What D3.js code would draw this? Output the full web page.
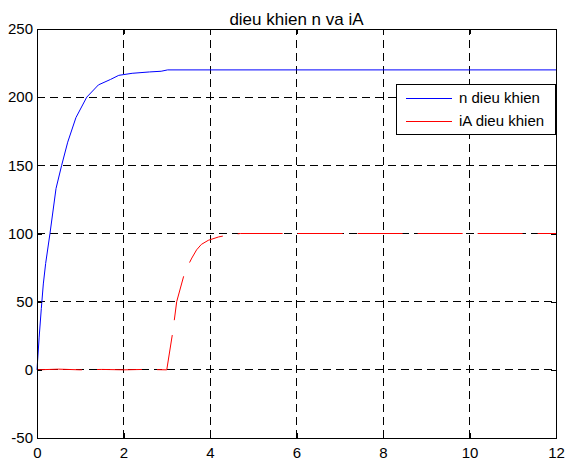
<!DOCTYPE html>
<html>
<head>
<meta charset="utf-8">
<script src="https://cdn.jsdelivr.net/npm/d3@7"></script>
<style>
  body { margin: 0; background: #fff; }
  text { font-family: Arial, "Liberation Sans", sans-serif; fill: #000; }
</style>
</head>
<body>
<div id="chart"></div>
<script>
// data
const xTicks = [0, 2, 4, 6, 8, 10, 12];
const yTicks = [-50, 0, 50, 100, 150, 200, 250];

const nTime = [0, 0.05, 0.1, 0.146, 0.2, 0.3, 0.44, 0.57, 0.71, 0.9, 1.15, 1.42, 1.7, 1.89, 2.2, 2.6, 2.87, 3.02, 12];
const nValue = [0, 24, 45, 63, 78, 100, 133, 150, 167, 185, 200, 209, 213, 216, 217.5, 218.5, 219, 220, 220];

const iTime = [0, 0.5, 1, 1.5, 2, 2.5, 3.0, 3.14, 3.23, 3.42, 3.58, 3.69, 3.8, 3.96, 4.2, 4.45, 4.7, 12];
const iValue = [0, 0.5, 0, 0.3, 0, 0.3, 0, 28, 50, 72, 82, 88, 92, 95, 97.5, 99, 100, 100];

const seriesNames = ["n dieu khien", "iA dieu khien"];

const width = 566, height = 462;
const margin = { left: 37, right: 10, top: 29, bottom: 24 };

const svg = d3.select("#chart").append("svg")
  .attr("width", width)
  .attr("height", height);

const x = d3.scaleLinear().domain([0, 12]).range([margin.left, width - margin.right]);
const y = d3.scaleLinear().domain([-50, 250]).range([height - margin.bottom, margin.top]);

// grid
const grid = svg.append("g").attr("stroke", "#000").attr("stroke-width", 1)
  .attr("stroke-dasharray", "8,5").attr("shape-rendering", "crispEdges");
grid.selectAll("line.v").data(xTicks).enter().append("line")
  .attr("x1", d => x(d)).attr("x2", d => x(d))
  .attr("y1", y(-50)).attr("y2", y(250));
grid.selectAll("line.h").data(yTicks).enter().append("line")
  .attr("y1", d => y(d)).attr("y2", d => y(d))
  .attr("x1", x(0)).attr("x2", x(12));

// curves
const line = d3.line().x(d => x(d[0])).y(d => y(d[1]));
svg.append("path")
  .datum(d3.zip(nTime, nValue))
  .attr("d", line)
  .attr("fill", "none").attr("stroke", "#0000ff").attr("stroke-width", 1);
svg.append("path")
  .datum(d3.zip(iTime, iValue))
  .attr("d", line)
  .attr("fill", "none").attr("stroke", "#ff0000").attr("stroke-width", 1)
  .attr("stroke-dasharray", "45,15");

// box
svg.append("rect")
  .attr("x", x(0)).attr("y", y(250))
  .attr("width", x(12) - x(0)).attr("height", y(-50) - y(250))
  .attr("fill", "none").attr("stroke", "#000").attr("stroke-width", 1)
  .attr("shape-rendering", "crispEdges");

// axes with inward ticks
const fmt = d => String(d);
const xAxis = d3.axisBottom(x).tickValues(xTicks).tickSizeInner(-5).tickSizeOuter(0).tickPadding(9).tickFormat(fmt);
const yAxis = d3.axisLeft(y).tickValues(yTicks).tickSizeInner(-5).tickSizeOuter(0).tickPadding(4).tickFormat(fmt);

svg.append("g").attr("transform", `translate(0,${y(-50)})`).call(xAxis);
svg.append("g").attr("transform", `translate(${x(0)},0)`).call(yAxis);
svg.append("g").attr("transform", `translate(0,${y(250)})`)
  .call(d3.axisTop(x).tickValues(xTicks).tickSizeInner(-5).tickSizeOuter(0).tickFormat(""));
svg.append("g").attr("transform", `translate(${x(12)},0)`)
  .call(d3.axisRight(y).tickValues(yTicks).tickSizeInner(-5).tickSizeOuter(0).tickFormat(""));

svg.selectAll(".domain").remove();
svg.selectAll(".tick line").attr("stroke", "#000").attr("shape-rendering", "crispEdges");
svg.selectAll(".tick text").style("font-size", "15px").style("font-family", "Arial, 'Liberation Sans', sans-serif");

// title
svg.append("text")
  .attr("x", (x(0) + x(12)) / 2).attr("y", 25)
  .attr("text-anchor", "middle")
  .style("font-size", "17px")
  .text("dieu khien n va iA");

// legend
const legend = svg.append("g");
legend.append("rect")
  .attr("x", 396).attr("y", 84).attr("width", 159).attr("height", 50)
  .attr("fill", "#fff").attr("stroke", "#000").attr("shape-rendering", "crispEdges");
const colors = ["#0000ff", "#ff0000"];
seriesNames.forEach((name, i) => {
  const ly = 98 + i * 23;
  legend.append("line")
    .attr("x1", 406).attr("x2", 452).attr("y1", ly).attr("y2", ly)
    .attr("stroke", colors[i]).attr("stroke-width", 1)
    .attr("shape-rendering", "crispEdges");
  legend.append("text")
    .attr("x", 459).attr("y", ly).attr("dy", "0.35em")
    .style("font-size", "15px")
    .text(name);
});
</script>
</body>
</html>
